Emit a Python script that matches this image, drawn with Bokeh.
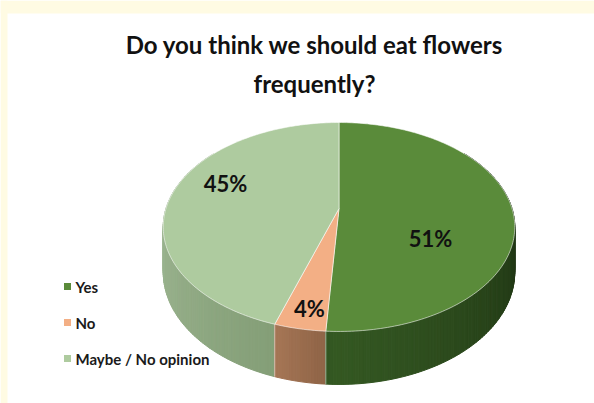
import math
from bokeh.plotting import figure
from bokeh.models import Range1d, BoxAnnotation
from bokeh.core.properties import value
from bokeh.embed import file_html
from bokeh.resources import INLINE

# ---- data ----
categories = ["Yes", "No", "Maybe / No opinion"]
shares = [51, 4, 45]
labels = ["51%", "4%", "45%"]
top_colors = ["#5A8B3A", "#F3AF85", "#AECB9F"]
side_near = [(52, 88, 34), (143, 100, 70), (125, 152, 112)]
side_far = [(30, 50, 19), (166, 118, 86), (160, 184, 148)]
title_lines = ["Do you think we should eat flowers", "frequently?"]

W, H = 594, 403
p = figure(width=W, height=H, output_backend="svg", toolbar_location=None,
           x_range=Range1d(0, W), y_range=Range1d(H, 0), min_border=0)
p.axis.visible = False
p.grid.visible = False
p.outline_line_color = None
p.background_fill_color = "white"
p.border_fill_color = "white"

# page frame bands
p.add_layout(BoxAnnotation(top=0, bottom=13, left=0, right=W, fill_color="#FFFBE3", fill_alpha=1, line_color=None))
p.add_layout(BoxAnnotation(top=0, bottom=H, left=0, right=7, fill_color="#FFFBE3", fill_alpha=1, line_color=None))

# projection of a tilted disc (perspective)
CX, CY, A, B, E, DEP = 338.5, 208.0, 173.0, 101.2, 0.177, 43.6

def top_pt(phi):
    s, c = math.sin(phi), math.cos(phi)
    d = 1 + E * c
    return CX + A * s / d, CY - B * c / d

def bot_pt(phi):
    s, c = math.sin(phi), math.cos(phi)
    d = 1 + E * c
    return CX + A * s / d, CY + (-B * c + DEP) / d

total = float(sum(shares))
bounds = []
acc = 0.0
for v in shares:
    a0 = acc / total * 2 * math.pi
    acc += v
    a1 = acc / total * 2 * math.pi
    bounds.append((a0, a1))

def mix(c1, c2, t):
    t = max(0.0, min(1.0, t))
    return "#%02x%02x%02x" % tuple(int(round(c1[k] + (c2[k] - c1[k]) * t)) for k in range(3))

# side strips
strips = []
for i, (a0, a1) in enumerate(bounds):
    n = max(2, int(math.degrees(a1 - a0) / 1.0))
    for k in range(n):
        f0 = a0 + (a1 - a0) * k / n
        f1 = a0 + (a1 - a0) * (k + 1) / n
        fm = 0.5 * (f0 + f1)
        if math.cos(fm) > 0.6:
            continue
        if i == 1:
            col = mix(side_near[1], side_far[1], (fm - a0) / (a1 - a0))
        else:
            col = mix(side_near[i], side_far[i], abs(fm - math.pi) / (math.pi / 2))
        t0, t1 = top_pt(f0), top_pt(f1)
        b0, b1 = bot_pt(f0), bot_pt(f1)
        strips.append((math.cos(fm), [t0[0], t1[0], b1[0], b0[0]], [t0[1], t1[1], b1[1], b0[1]], col))
strips.sort(key=lambda s: -s[0])
p.patches([s[1] for s in strips], [s[2] for s in strips], fill_color=[s[3] for s in strips],
          line_color=[s[3] for s in strips], line_width=1)

# light edges between slices on the side
for (a0, a1) in bounds:
    if math.cos(a0) < -0.2:
        t, b = top_pt(a0), bot_pt(a0)
        p.line([t[0], b[0]], [t[1], b[1]], line_color="white", line_alpha=0.55, line_width=1)

# top faces
xs, ys = [], []
for (a0, a1) in bounds:
    n = max(4, int(math.degrees(a1 - a0)))
    px, py = [CX], [CY]
    for k in range(n + 1):
        x, y = top_pt(a0 + (a1 - a0) * k / n)
        px.append(x)
        py.append(y)
    xs.append(px)
    ys.append(py)
p.patches(xs, ys, fill_color=top_colors, line_color="white", line_alpha=0.55, line_width=1)

# data labels
lab_x = [430, 309, 225]
lab_y = [238, 308, 183]
p.text(x=lab_x, y=lab_y, text=labels, text_font=value("Lato"), text_font_style="bold",
       text_font_size="22px", text_align="center", text_baseline="middle", text_color="#111111")

# title
p.text(x=[314, 314], y=[44, 83], text=title_lines, text_font=value("Lato"), text_font_style="bold",
       text_font_size="24px", text_align="center", text_baseline="middle", text_color="#111111")

# legend
leg_y = [286, 322, 358]
p.rect(x=[67] * 3, y=leg_y, width=7, height=7, fill_color=top_colors, line_color=None)
p.text(x=[75] * 3, y=leg_y, text=categories, text_font=value("Lato"), text_font_style="bold",
       text_font_size="15px", text_align="left", text_baseline="middle", text_color="#1a1a1a")

open("out.html", "w").write(file_html(p, INLINE))
